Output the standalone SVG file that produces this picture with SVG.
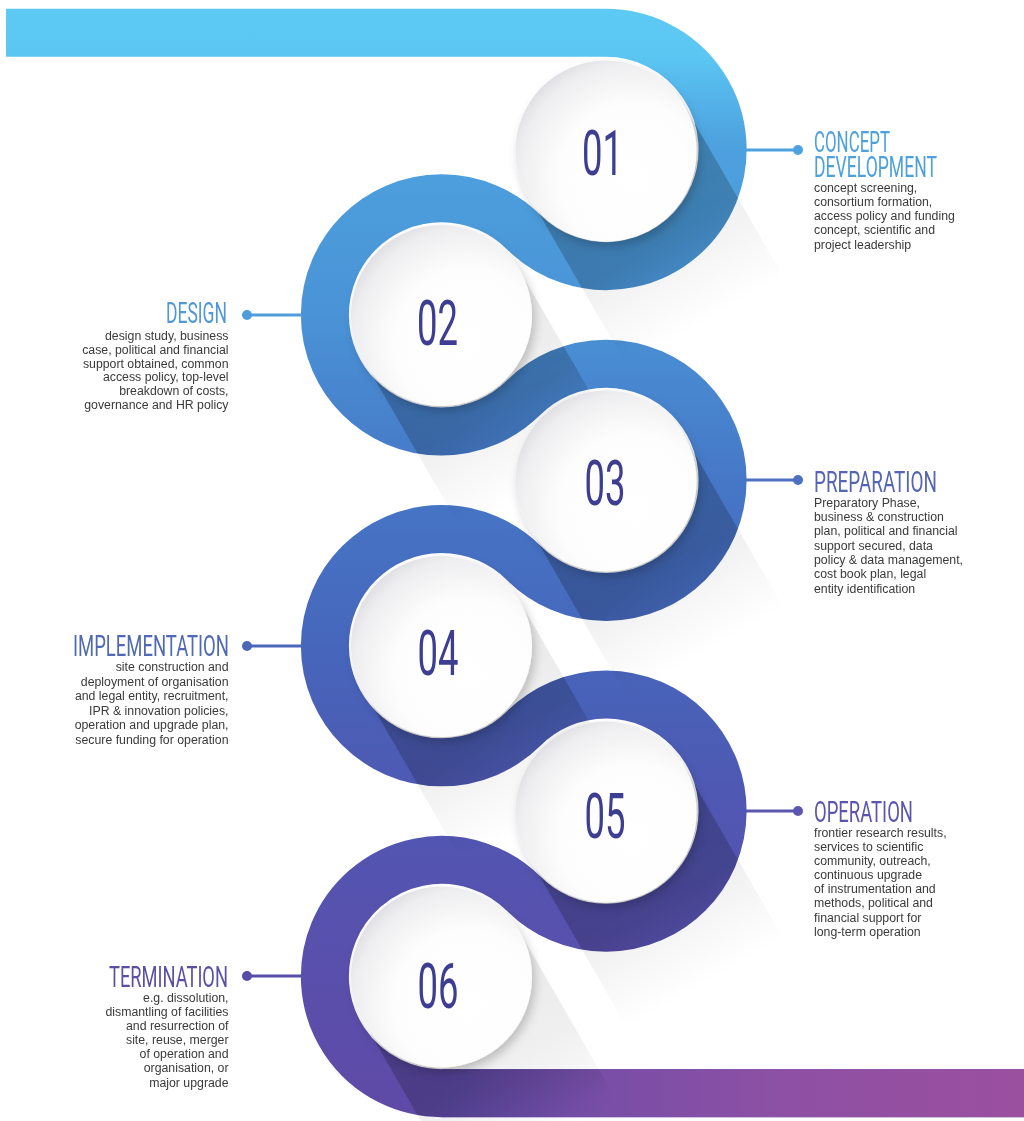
<svg xmlns="http://www.w3.org/2000/svg" xmlns:xlink="http://www.w3.org/1999/xlink" width="1024" height="1121" viewBox="0 0 1024 1121">
<style>
.b{font-family:"Liberation Sans",Arial,sans-serif;font-size:12.3px;fill:#3a3a3a;}
.r{text-anchor:end;}
.t{font-family:Roboto,"Liberation Sans",sans-serif;font-size:29px;}
.num{font-family:Roboto,"Liberation Sans",sans-serif;font-size:63px;fill:#3d3e92;}
.disc{fill:url(#discG);filter:url(#discSh);}
</style>
<defs>
<linearGradient id="ribG" gradientUnits="userSpaceOnUse" x1="0" y1="0" x2="0" y2="1121">
<stop offset="0" stop-color="#5DCBF5"/>
<stop offset="0.05" stop-color="#5BC6F2"/>
<stop offset="0.09" stop-color="#54B2E9"/>
<stop offset="0.13" stop-color="#4DA1DE"/>
<stop offset="0.28" stop-color="#4A93D6"/>
<stop offset="0.43" stop-color="#4677C7"/>
<stop offset="0.58" stop-color="#4666BB"/>
<stop offset="0.72" stop-color="#5057B2"/>
<stop offset="0.87" stop-color="#5A4FAC"/>
<stop offset="1" stop-color="#5F4AA6"/>
</linearGradient>
<linearGradient id="barG" gradientUnits="userSpaceOnUse" x1="441" y1="0" x2="1024" y2="0">
<stop offset="0" stop-color="#5D4BA8"/>
<stop offset="0.3" stop-color="#7A4EA6"/>
<stop offset="0.6" stop-color="#8E50A4"/>
<stop offset="1" stop-color="#9B4F9F"/>
</linearGradient>
<radialGradient id="discG" cx="0.65" cy="0.65" r="0.75">
<stop offset="0" stop-color="#ffffff"/>
<stop offset="0.55" stop-color="#fdfdfd"/>
<stop offset="0.85" stop-color="#eeeef0"/>
<stop offset="1" stop-color="#d9d9de"/>
</radialGradient>
<linearGradient id="shL" gradientUnits="userSpaceOnUse" x1="0" y1="0" x2="100" y2="173.2">
<stop offset="0" stop-color="#000" stop-opacity="0.09"/>
<stop offset="0.55" stop-color="#000" stop-opacity="0.06"/>
<stop offset="1" stop-color="#000" stop-opacity="0"/>
</linearGradient>
<linearGradient id="shD" gradientUnits="userSpaceOnUse" x1="0" y1="0" x2="90" y2="155.9">
<stop offset="0" stop-color="#000" stop-opacity="0.15"/>
<stop offset="0.6" stop-color="#000" stop-opacity="0.13"/>
<stop offset="1" stop-color="#000" stop-opacity="0"/>
</linearGradient>
<path id="shL1" d="M77.9 -45 L177.9 128.2 L22.1 218.2 L-77.9 45 Z" fill="url(#shL)"/>
<path id="shD1" d="M77.9 -45 L167.9 110.9 L12.1 200.9 L-77.9 45 Z" fill="url(#shD)"/>
<path id="ribbonPath" d="M6 32.87 L606 32.87 A116.63 116.63 0 1 1 523.75 232.2 A116.63 116.63 0 1 0 523.75 397.6 A116.63 116.63 0 1 1 523.75 563 A116.63 116.63 0 1 0 523.75 728.4 A116.63 116.63 0 1 1 523.75 893.8 A116.63 116.63 0 1 0 441.5 1093.13 L1024 1093.13"/>
<mask id="ribMask" maskUnits="userSpaceOnUse" x="0" y="0" width="1024" height="1121">
<use xlink:href="#ribbonPath" fill="none" stroke="#fff" stroke-width="48"/>
</mask>
<filter id="discSh" x="-30%" y="-30%" width="160%" height="160%">
<feDropShadow dx="3" dy="5" stdDeviation="5" flood-color="#000" flood-opacity="0.2"/>
</filter>
</defs>
<rect width="1024" height="1121" fill="#ffffff"/>
<g id="ribbon">
<use xlink:href="#ribbonPath" fill="none" stroke="url(#ribG)" stroke-width="48"/>
<rect x="441.5" y="1069.13" width="582.5" height="48" fill="url(#barG)"/>
</g>
<g id="shadows">
<use xlink:href="#shL1" x="606" y="149.5"/>
<use xlink:href="#shL1" x="441.5" y="314.9"/>
<use xlink:href="#shL1" x="606" y="480.3"/>
<use xlink:href="#shL1" x="441.5" y="645.7"/>
<use xlink:href="#shL1" x="606" y="811.1"/>
<use xlink:href="#shL1" x="441.5" y="976.5"/>
<g mask="url(#ribMask)">
<use xlink:href="#shD1" x="606" y="149.5"/>
<use xlink:href="#shD1" x="441.5" y="314.9"/>
<use xlink:href="#shD1" x="606" y="480.3"/>
<use xlink:href="#shD1" x="441.5" y="645.7"/>
<use xlink:href="#shD1" x="606" y="811.1"/>
<use xlink:href="#shD1" x="441.5" y="976.5"/>
</g>
</g>
<g id="connectors" stroke-width="3">
<line x1="746" y1="150" x2="797" y2="150" stroke="#4CA3DF"/>
<circle cx="798" cy="150" r="5" fill="#4CA3DF"/>
<line x1="248" y1="315" x2="302" y2="315" stroke="#4F9CDB"/>
<circle cx="247" cy="315" r="5" fill="#4F9CDB"/>
<line x1="746" y1="480" x2="797" y2="480" stroke="#4E70C2"/>
<circle cx="798" cy="480" r="5" fill="#4E70C2"/>
<line x1="248" y1="646" x2="302" y2="646" stroke="#4A67BA"/>
<circle cx="247" cy="646" r="5" fill="#4A67BA"/>
<line x1="746" y1="811" x2="797" y2="811" stroke="#5B56B0"/>
<circle cx="798" cy="811" r="5" fill="#5B56B0"/>
<line x1="248" y1="976" x2="302" y2="976" stroke="#574CA6"/>
<circle cx="247" cy="976" r="5" fill="#574CA6"/>
</g>
<g id="node-01">
<circle class="disc" cx="606" cy="151" r="90.5"/>
<text class="num" x="582" y="175" textLength="41" lengthAdjust="spacingAndGlyphs">01</text>
<text class="t" x="814" y="152" fill="#4CA0DC" textLength="76" lengthAdjust="spacingAndGlyphs">CONCEPT</text>
<text class="t" x="814" y="177" fill="#4CA0DC" textLength="123" lengthAdjust="spacingAndGlyphs">DEVELOPMENT</text>
<text class="b" x="814" y="192">concept screening,</text>
<text class="b" x="814" y="206">consortium formation,</text>
<text class="b" x="814" y="220">access policy and funding</text>
<text class="b" x="814" y="234">concept, scientific and</text>
<text class="b" x="814" y="248.5">project leadership</text>
</g>
<g id="node-02">
<circle class="disc" cx="441.5" cy="315.5" r="90.5"/>
<text class="num" x="417" y="345" textLength="41" lengthAdjust="spacingAndGlyphs">02</text>
<text class="t" x="166" y="323" fill="#4F97D6" textLength="61" lengthAdjust="spacingAndGlyphs">DESIGN</text>
<text class="b r" x="228.5" y="340">design study, business</text>
<text class="b r" x="228.5" y="354">case, political and financial</text>
<text class="b r" x="228.5" y="367.5">support obtained, common</text>
<text class="b r" x="228.5" y="381">access policy, top-level</text>
<text class="b r" x="228.5" y="395">breakdown of costs,</text>
<text class="b r" x="228.5" y="408.5">governance and HR policy</text>
</g>
<g id="node-03">
<circle class="disc" cx="606" cy="481" r="90.5"/>
<text class="num" x="584.5" y="505" textLength="41" lengthAdjust="spacingAndGlyphs">03</text>
<text class="t" x="814" y="492" fill="#5565B5" textLength="123" lengthAdjust="spacingAndGlyphs">PREPARATION</text>
<text class="b" x="814" y="507">Preparatory Phase,</text>
<text class="b" x="814" y="521">business &amp; construction</text>
<text class="b" x="814" y="535">plan, political and financial</text>
<text class="b" x="814" y="550">support secured, data</text>
<text class="b" x="814" y="564">policy &amp; data management,</text>
<text class="b" x="814" y="578">cost book plan, legal</text>
<text class="b" x="814" y="593">entity identification</text>
</g>
<g id="node-04">
<circle class="disc" cx="441.5" cy="646.5" r="90.5"/>
<text class="num" x="417.5" y="674.5" textLength="41" lengthAdjust="spacingAndGlyphs">04</text>
<text class="t" x="73" y="656" fill="#4F69B5" textLength="156" lengthAdjust="spacingAndGlyphs">IMPLEMENTATION</text>
<text class="b r" x="228.5" y="671">site construction and</text>
<text class="b r" x="228.5" y="685.5">deployment of organisation</text>
<text class="b r" x="228.5" y="700">and legal entity, recruitment,</text>
<text class="b r" x="228.5" y="714.5">IPR &amp; innovation policies,</text>
<text class="b r" x="228.5" y="729">operation and upgrade plan,</text>
<text class="b r" x="228.5" y="743.5">secure funding for operation</text>
</g>
<g id="node-05">
<circle class="disc" cx="606" cy="812" r="90.5"/>
<text class="num" x="584.5" y="837.5" textLength="41" lengthAdjust="spacingAndGlyphs">05</text>
<text class="t" x="814" y="822" fill="#5B55AE" textLength="99" lengthAdjust="spacingAndGlyphs">OPERATION</text>
<text class="b" x="814" y="837">frontier research results,</text>
<text class="b" x="814" y="851">services to scientific</text>
<text class="b" x="814" y="865">community, outreach,</text>
<text class="b" x="814" y="879">continuous upgrade</text>
<text class="b" x="814" y="893">of instrumentation and</text>
<text class="b" x="814" y="907">methods, political and</text>
<text class="b" x="814" y="921.5">financial support for</text>
<text class="b" x="814" y="935.5">long-term operation</text>
</g>
<g id="node-06">
<circle class="disc" cx="441.5" cy="977" r="90.5"/>
<text class="num" x="417.5" y="1007.5" textLength="41" lengthAdjust="spacingAndGlyphs">06</text>
<text class="t" x="109" y="987" fill="#5A4FA5" textLength="119" lengthAdjust="spacingAndGlyphs">TERMINATION</text>
<text class="b r" x="228.5" y="1002">e.g. dissolution,</text>
<text class="b r" x="228.5" y="1016">dismantling of facilities</text>
<text class="b r" x="228.5" y="1030">and resurrection of</text>
<text class="b r" x="228.5" y="1044">site, reuse, merger</text>
<text class="b r" x="228.5" y="1058">of operation and</text>
<text class="b r" x="228.5" y="1072">organisation, or</text>
<text class="b r" x="228.5" y="1086.5">major upgrade</text>
</g>
</svg>
